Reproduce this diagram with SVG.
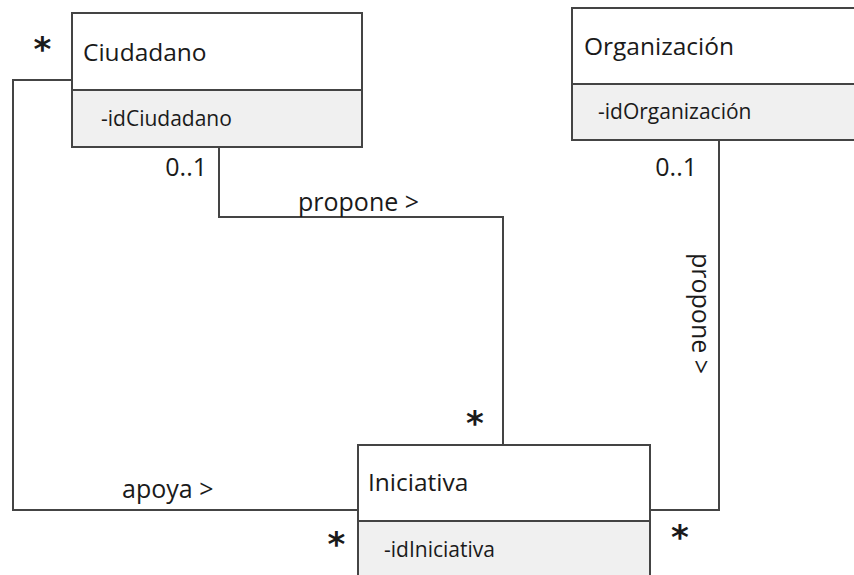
<svg xmlns="http://www.w3.org/2000/svg" width="854" height="575" viewBox="0 0 854 575">
<style>
.box{fill:#ffffff;stroke:#444;stroke-width:2}
.attr{fill:#f0f0f0;stroke:#444;stroke-width:2}
.name{font-family:"Open Sans","Noto Sans",sans-serif;font-size:24.5px;fill:#1a1a1a}
.at{font-family:"Open Sans","Noto Sans",sans-serif;font-size:21px;fill:#1a1a1a}
.lbl{font-family:"Open Sans","Noto Sans",sans-serif;font-size:25px;fill:#1a1a1a}
.star{font-family:"DejaVu Sans",sans-serif;font-size:34px;font-weight:bold;fill:#1a1a1a}
.conn{fill:none;stroke:#444;stroke-width:2}
</style>
<g id="connectors">
<polyline class="conn" points="72,80 13,80 13,510 358,510"/>
<polyline class="conn" points="219,147 219,217 503,217 503,445"/>
<polyline class="conn" points="719,140 719,510 650,510"/>
</g>
<g id="Ciudadano">
<rect class="box" x="72" y="13" width="290" height="77"/>
<rect class="attr" x="72" y="90" width="290" height="57"/>
<text class="name" x="83" y="61">Ciudadano</text>
<text class="at" x="101" y="126">-idCiudadano</text>
</g>
<g id="Organizacion">
<rect class="box" x="572" y="8" width="300" height="76"/>
<rect class="attr" x="572" y="84" width="300" height="56"/>
<text class="name" x="584" y="55">Organización</text>
<text class="at" x="598" y="119">-idOrganización</text>
</g>
<g id="Iniciativa">
<rect class="box" x="358" y="445" width="292" height="76"/>
<rect class="attr" x="358" y="521" width="292" height="80"/>
<text class="name" x="368" y="491">Iniciativa</text>
<text class="at" x="384" y="557">-idIniciativa</text>
</g>
<g id="labels">
<text class="lbl" x="298" y="211">propone &gt;</text>
<text class="lbl" x="122" y="498">apoya &gt;</text>
<text class="lbl" transform="translate(692,253) rotate(90)">propone &gt;</text>
<text class="lbl" x="207" y="176" text-anchor="end">0..1</text>
<text class="lbl" x="697" y="176" text-anchor="end">0..1</text>
<text class="star" x="42.5" y="60.5" text-anchor="middle">*</text>
<text class="star" x="475" y="435" text-anchor="middle">*</text>
<text class="star" x="336.5" y="556" text-anchor="middle">*</text>
<text class="star" x="680" y="549" text-anchor="middle">*</text>
</g>
</svg>
